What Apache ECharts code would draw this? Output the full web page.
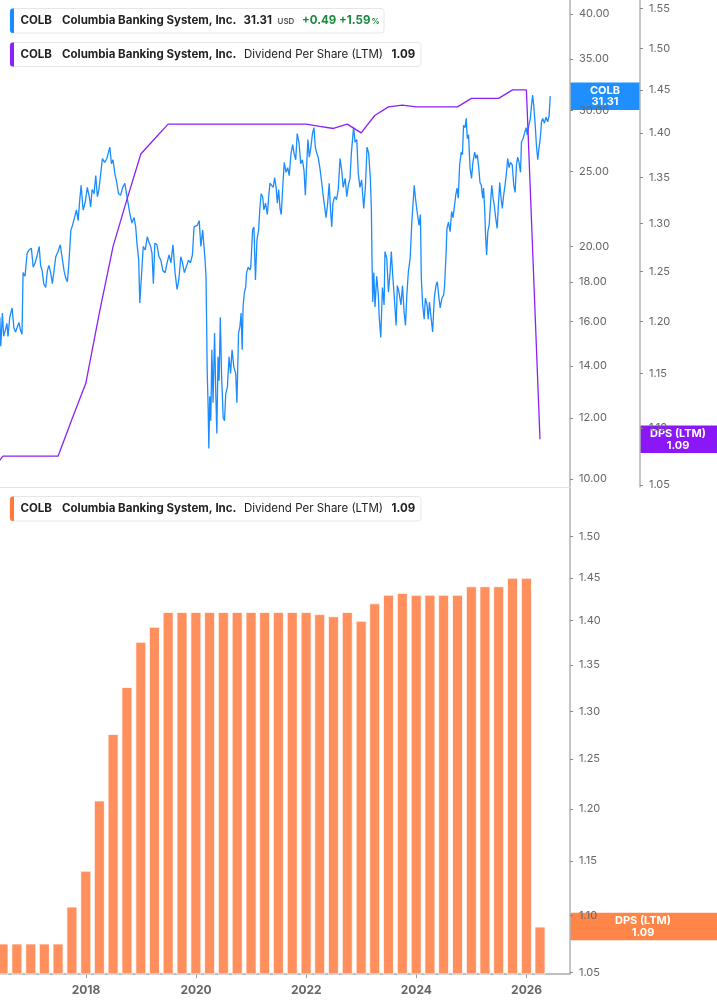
<!DOCTYPE html>
<html><head><meta charset="utf-8">
<script src="https://cdn.jsdelivr.net/npm/echarts@6/dist/echarts.min.js"></script>
<style>html,body{margin:0;padding:0;background:#fff;}#c{width:717px;height:1005px;}</style>
</head><body><div id="c"></div>
<script>
const priceDates = ['2016-06-09','2016-06-15','2016-06-26','2016-07-04','2016-07-16','2016-07-26','2016-08-02','2016-08-14','2016-08-29','2016-09-10','2016-09-21','2016-10-01','2016-10-14','2016-10-23','2016-11-03','2016-11-10','2016-11-23','2016-12-07','2016-12-20',
'2017-01-04','2017-01-16','2017-01-31','2017-02-12','2017-02-25','2017-03-06','2017-03-17','2017-03-27','2017-04-09','2017-04-20','2017-04-30','2017-05-12','2017-05-23','2017-06-03','2017-06-15','2017-06-30','2017-07-15','2017-07-26','2017-08-09','2017-08-20','2017-08-31','2017-09-10','2017-09-23','2017-10-04','2017-10-17','2017-10-30','2017-11-10','2017-11-21','2017-11-30','2017-12-13','2017-12-27',
'2018-01-10','2018-01-23','2018-02-01','2018-02-11','2018-02-24','2018-03-07','2018-03-18','2018-03-28','2018-04-09','2018-04-20','2018-05-05','2018-05-20','2018-06-08','2018-06-19','2018-06-29','2018-07-12','2018-07-25','2018-08-05','2018-08-19','2018-08-31','2018-09-16','2018-09-27','2018-10-10','2018-10-20','2018-11-02','2018-11-16','2018-11-27','2018-12-05','2018-12-17','2018-12-24',
'2019-01-04','2019-01-16','2019-01-29','2019-02-12','2019-02-23','2019-03-06','2019-03-15','2019-03-24','2019-04-03','2019-04-17','2019-04-30','2019-05-13','2019-05-26','2019-06-10','2019-06-23','2019-07-06','2019-07-19','2019-08-01','2019-08-15','2019-08-28','2019-09-09','2019-09-22','2019-10-03','2019-10-16','2019-10-29','2019-11-12','2019-11-25','2019-12-08','2019-12-19',
'2020-01-09','2020-01-22','2020-02-02','2020-02-14','2020-02-23','2020-03-01','2020-03-07','2020-03-11','2020-03-15','2020-03-21','2020-03-26','2020-04-01','2020-04-08','2020-04-15','2020-04-23','2020-05-03','2020-05-11','2020-05-18','2020-05-26','2020-06-02','2020-06-10','2020-06-18','2020-06-29','2020-07-08','2020-07-16','2020-07-27','2020-08-07','2020-08-17','2020-08-27','2020-09-08','2020-09-20','2020-09-28','2020-10-09','2020-10-18','2020-10-26','2020-11-02','2020-11-08','2020-11-16','2020-11-25','2020-12-01','2020-12-12','2020-12-23','2020-12-29',
'2021-01-10','2021-01-19','2021-01-29','2021-02-08','2021-02-19','2021-02-28','2021-03-08','2021-03-18','2021-03-26','2021-04-06','2021-04-18','2021-04-27','2021-05-05','2021-05-16','2021-05-27','2021-06-05','2021-06-15','2021-06-23','2021-07-02','2021-07-11','2021-07-19','2021-07-28','2021-08-08','2021-08-20','2021-08-31','2021-09-10','2021-09-22','2021-10-03','2021-10-12','2021-10-23','2021-11-02','2021-11-14','2021-11-25','2021-12-06','2021-12-17','2021-12-26',
'2022-01-02','2022-01-12','2022-01-21','2022-02-01','2022-02-11','2022-02-21','2022-03-02','2022-03-12','2022-03-21','2022-04-01','2022-04-14','2022-04-24','2022-05-03','2022-05-12','2022-05-23','2022-06-02','2022-06-11','2022-06-19','2022-06-27','2022-07-08','2022-07-21','2022-08-01','2022-08-13','2022-08-24','2022-09-03','2022-09-16','2022-09-27','2022-10-07','2022-10-18','2022-10-27','2022-11-05','2022-11-11','2022-11-21','2022-12-02','2022-12-12','2022-12-23',
'2023-01-03','2023-01-17','2023-01-28','2023-02-08','2023-02-19','2023-03-02','2023-03-09','2023-03-13','2023-03-18','2023-03-25','2023-04-02','2023-04-13','2023-04-25','2023-04-29','2023-05-06','2023-05-10','2023-05-14','2023-05-21','2023-06-01','2023-06-07','2023-06-19','2023-06-30','2023-07-11','2023-07-19','2023-07-28','2023-08-08','2023-08-20','2023-08-28','2023-09-08','2023-09-21','2023-10-01','2023-10-12','2023-10-21','2023-10-30','2023-11-09','2023-11-21','2023-12-02','2023-12-11','2023-12-18','2023-12-26',
'2024-01-06','2024-01-19','2024-01-28','2024-02-03','2024-02-12','2024-02-22','2024-03-01','2024-03-12','2024-03-20','2024-03-28','2024-04-06','2024-04-18','2024-04-29','2024-05-10','2024-05-19','2024-05-30','2024-06-07','2024-06-19','2024-06-30','2024-07-06','2024-07-15','2024-07-22','2024-08-01','2024-08-12','2024-08-22','2024-08-31','2024-09-08','2024-09-18','2024-09-27','2024-10-05','2024-10-14','2024-10-25','2024-11-02','2024-11-09','2024-11-19','2024-11-27','2024-12-04','2024-12-12','2024-12-22',
'2025-01-01','2025-01-10','2025-01-22','2025-01-30','2025-02-08','2025-02-18','2025-02-26','2025-03-07','2025-03-16','2025-03-22','2025-03-29','2025-04-04','2025-04-11','2025-04-19','2025-04-28','2025-05-06','2025-05-15','2025-05-24','2025-06-01','2025-06-10','2025-06-20','2025-06-28','2025-07-07','2025-07-16','2025-07-24','2025-08-02','2025-08-11','2025-08-21','2025-08-29','2025-09-07','2025-09-16','2025-09-28','2025-10-08','2025-10-17','2025-10-26','2025-11-03','2025-11-12','2025-11-22','2025-11-28','2025-12-09','2025-12-20','2025-12-29',
'2026-01-06','2026-01-16','2026-01-26','2026-02-03','2026-02-10','2026-02-17','2026-02-26','2026-03-07','2026-03-16','2026-03-24','2026-04-02','2026-04-10','2026-04-18','2026-04-29','2026-05-10','2026-05-21','2026-05-30','2026-06-07'];
const priceValues = [16.2,14.85,16.4,15.3,15.6,15.9,15.3,16.2,16.65,15.7,15.5,15.7,15.95,15.6,15.4,18.5,18.3,19.6,19.8,
19.9,18.8,19.1,19.5,20.0,18.9,18.6,17.9,17.7,18.6,18.9,18.5,17.9,18.6,19.4,19.7,20.1,19.4,18.6,18.2,18.0,19.05,21.0,21.3,21.8,22.3,21.6,23.0,24.0,22.3,22.8,
23.85,23.2,22.5,23.7,23.4,24.7,23.2,23.7,24.85,26.0,25.7,26.0,26.9,25.6,25.9,24.85,24.15,23.4,23.3,23.8,24.15,23.4,23.4,22.0,21.45,21.8,21.2,20.2,19.2,16.9,
18.3,20.0,19.8,20.6,20.25,20.0,19.6,17.9,20.2,20.1,19.4,19.2,18.6,18.5,19.05,19.5,19.05,20.1,18.5,17.6,18.1,19.4,19.05,18.5,18.6,19.2,19.05,19.5,21.2,
21.3,21.6,20.0,21.0,21.1,19.2,18.3,16.06,13.8,12.45,10.95,12.8,11.9,14.7,12.55,15.45,12.9,11.45,14.4,13.4,16.2,13.7,12.0,11.9,12.9,13.15,14.4,13.7,14.7,13.95,13.7,12.55,15.45,15.75,16.4,14.7,16.7,17.4,17.7,18.5,18.8,18.65,18.8,
21.0,21.2,18.1,20.4,21.0,22.5,23.4,23.2,22.3,22.75,22.0,23.2,24.15,24.2,23.85,24.55,23.85,22.75,23.7,22.4,22.0,23.7,25.7,24.95,25.3,24.7,26.4,27.1,26.4,25.9,28.0,27.25,25.6,25.9,25.1,23.3,
25.1,27.5,26.1,26.9,28.0,28.5,26.9,26.4,26.1,25.3,24.15,23.2,22.5,21.8,22.75,24.15,22.3,21.2,22.75,23.2,23.0,23.7,26.0,25.1,23.85,24.5,23.2,24.0,24.5,26.4,27.7,28.5,27.3,27.5,24.85,23.85,
24.4,22.4,23.85,26.9,26.4,24.5,22.3,19.2,16.95,18.5,16.7,18.3,17.2,16.3,15.6,15.25,16.06,17.7,16.8,19.7,19.3,17.45,18.55,19.7,18.4,17.15,15.8,17.8,17.45,16.8,17.8,16.45,15.8,17.3,18.55,19.3,21.5,22.85,24.0,23.1,
22.2,21.3,22.0,18.2,16.8,16.1,17.15,16.8,16.1,16.95,16.3,15.5,17.15,17.8,18.0,17.15,16.65,17.15,17.3,17.8,19.3,21.1,21.5,20.9,22.2,21.8,22.4,23.3,23.8,23.1,25.5,26.5,26.3,28.7,28.5,29.3,27.6,27.9,25.3,
24.5,25.7,26.5,26.0,26.3,25.3,24.2,24.0,23.1,23.8,22.4,20.7,19.5,20.9,21.3,22.6,24.0,23.1,22.6,21.8,21.1,22.6,24.2,23.1,22.4,23.3,24.0,24.95,26.0,25.3,25.7,25.5,24.0,23.5,25.5,26.1,25.7,24.95,27.3,27.6,28.1,28.5,
27.9,28.7,29.3,30.5,31.4,30.5,29.0,27.1,25.9,26.8,27.6,29.0,29.3,28.9,29.4,29.0,29.5,31.31];

const dpsDates = ['2016-03-31','2016-06-30','2016-09-30','2016-12-31','2017-03-31','2017-06-30','2017-09-30','2017-12-31','2018-03-31','2018-06-30','2018-09-30','2018-12-31','2019-03-31','2019-06-30','2019-09-30','2019-12-31','2020-03-31','2020-06-30','2020-09-30','2020-12-31','2021-03-31','2021-06-30','2021-09-30','2021-12-31','2022-03-31','2022-06-30','2022-09-30','2022-12-31','2023-03-31','2023-06-30','2023-09-30','2023-12-31','2024-03-31','2024-06-30','2024-09-30','2024-12-31','2025-03-31','2025-06-30','2025-09-30','2025-12-31','2026-03-31'];
const dpsValues = [1.06,1.075,1.075,1.075,1.075,1.075,1.108,1.141,1.2085,1.276,1.326,1.376,1.393,1.41,1.41,1.41,1.41,1.41,1.41,1.41,1.41,1.41,1.41,1.41,1.4075,1.405,1.41,1.40,1.42,1.43,1.432,1.43,1.43,1.43,1.43,1.44,1.44,1.44,1.45,1.45,1.09];

const priceTicks = [10,12,14,16,18,20,25,30,35,40];
const dpsTicksTop = [1.05,1.10,1.15,1.20,1.25,1.30,1.35,1.40,1.45,1.50,1.55];
const dpsTicksBottom = [1.05,1.10,1.15,1.20,1.25,1.30,1.35,1.40,1.45,1.50];
const yearTicks = ['2018-01-01','2020-01-01','2022-01-01','2024-01-01','2026-01-01'];
const lastPrice = 31.31, lastDps = 1.09;
const xMin = '2016-06-10', xMax = '2026-10-16';

const BLUE = '#1a8cff', PURPLE = '#8a22f5', ORANGE = '#ff8f5c', GREEN = '#1a8a3c';
const FONT = 'Inter, Roboto, "Noto Sans", sans-serif';
const pd = s => echarts.number.parseDate(s).getTime();

const chart = echarts.init(document.getElementById('c'), null, {renderer: 'canvas'});

const yLabel = (ticks, margin) => ({
  customValues: ticks, formatter: v => Number(v).toFixed(2), color: '#666', fontSize: 11, margin: margin, fontFamily: FONT
});
const yTick = ticks => ({show: true, customValues: ticks, length: 3, lineStyle: {color: '#888', width: 1}});
const yLine = {show: true, lineStyle: {color: '#b3b3b3', width: 1.5}};

const option = {
  animation: false,
  backgroundColor: '#fff',
  grid: [
    {left: 0, top: 0, width: 570, height: 487, containLabel: false},
    {left: 0, top: 488, width: 570, height: 486, containLabel: false}
  ],
  xAxis: [
    {type: 'value', gridIndex: 0, min: pd(xMin), max: pd(xMax), scale: true,
     axisLine: {show: true, onZero: false, lineStyle: {color: '#e3e3e3', width: 1}},
     axisTick: {show: false}, axisLabel: {show: false}, splitLine: {show: false}},
    {type: 'value', gridIndex: 1, min: pd(xMin), max: pd(xMax), scale: true,
     axisLine: {show: true, onZero: false, lineStyle: {color: '#aaa', width: 1.5}},
     axisTick: {show: true, customValues: yearTicks.map(pd), length: 4, lineStyle: {color: '#999'}},
     axisLabel: {customValues: yearTicks.map(pd), formatter: v => String(new Date(v).getFullYear()),
       color: '#666', fontWeight: 'bold', fontSize: 12, margin: 10, fontFamily: FONT},
     splitLine: {show: false}}
  ],
  yAxis: [
    {type: 'log', gridIndex: 0, position: 'right', min: 9.764, max: 41.7,
     axisLine: yLine, axisTick: yTick(priceTicks), axisLabel: yLabel(priceTicks, 9), splitLine: {show: false}},
    {type: 'log', gridIndex: 0, position: 'right', offset: 70, min: 1.0483, max: 1.5605,
     axisLine: yLine, axisTick: yTick(dpsTicksTop), axisLabel: yLabel(dpsTicksTop, 9), splitLine: {show: false}},
    {type: 'log', gridIndex: 1, position: 'right', min: 1.0485, max: 1.5605,
     axisLine: yLine, axisTick: yTick(dpsTicksBottom), axisLabel: yLabel(dpsTicksBottom, 9), splitLine: {show: false}}
  ],
  series: [
    {type: 'line', name: 'Price', xAxisIndex: 0, yAxisIndex: 0, showSymbol: false, clip: true,
     data: priceDates.map((d, i) => [pd(d), priceValues[i]]),
     lineStyle: {color: BLUE, width: 1.3}, itemStyle: {color: BLUE}, z: 2},
    {type: 'line', name: 'DPS line', xAxisIndex: 0, yAxisIndex: 1, showSymbol: false, clip: true,
     data: dpsDates.map((d, i) => [pd(d), dpsValues[i]]),
     lineStyle: {color: PURPLE, width: 1.3}, itemStyle: {color: PURPLE}, z: 3},
    {type: 'bar', name: 'DPS bars', xAxisIndex: 1, yAxisIndex: 2, clip: true, barWidth: 11,
     data: dpsDates.map((d, i) => [pd(d), dpsValues[i]]),
     itemStyle: {color: ORANGE, borderColor: 'rgba(255,255,255,0.75)', borderWidth: 1}}
  ]
};
chart.setOption(option);

const LFS = 11.5;
function legendBox(id, y, h, w, color, items) {
  const cy = y + h / 2;
  const children = [
    {type: 'rect', shape: {x: 10, y: y, width: w, height: h, r: 3}, style: {fill: '#fff', stroke: '#e6e6e6', lineWidth: 1}},
    {type: 'rect', shape: {x: 10, y: y, width: 4, height: h, r: [3, 0, 0, 3]}, style: {fill: color}}
  ];
  items.forEach(it => children.push({type: 'text', x: it.x, y: cy + (it.dy || 0), style: {
    text: it.t, fill: it.c || '#222', font: (it.w || 'bold') + ' ' + (it.s || LFS) + 'px ' + FONT,
    textAlign: 'left', textVerticalAlign: 'middle'}}));
  return {type: 'group', id: id, z: 100, children: children};
}
function valueBox(id, x, w, cy, color, l1, l2, tx) {
  const h = 27.5;
  return {type: 'group', id: id, z: 110, children: [
    {type: 'rect', shape: {x: x, y: cy - h / 2, width: w, height: h}, style: {fill: color}},
    {type: 'text', x: tx, y: cy - 5.5, style: {text: l1, fill: '#fff', font: 'bold 11px ' + FONT, textAlign: 'center', textVerticalAlign: 'middle'}},
    {type: 'text', x: tx, y: cy + 6, style: {text: l2, fill: '#fff', font: 'bold 11px ' + FONT, textAlign: 'center', textVerticalAlign: 'middle'}}
  ]};
}
const common = [
  {x: 20.5, t: 'COLB'},
  {x: 62, t: 'Columbia Banking System, Inc.'}
];
const yP = chart.convertToPixel({yAxisIndex: 0}, lastPrice);
const yD1 = chart.convertToPixel({yAxisIndex: 1}, lastDps);
const yD2 = chart.convertToPixel({yAxisIndex: 2}, lastDps);
chart.setOption({graphic: [
  legendBox('lg1', 8.5, 24.5, 374, BLUE, common.concat([
    {x: 243.5, t: lastPrice.toFixed(2)},
    {x: 277.5, t: 'USD', s: 8, c: '#555', w: '600', dy: 1},
    {x: 302, t: '+0.49', c: GREEN},
    {x: 339, t: '+1.59', c: GREEN},
    {x: 371.5, t: '%', s: 8, c: GREEN, dy: 1}
  ])),
  legendBox('lg2', 42.5, 24, 411, PURPLE, common.concat([
    {x: 244, t: 'Dividend Per Share (LTM)', w: 'normal'},
    {x: 391.5, t: lastDps.toFixed(2)}
  ])),
  legendBox('lg3', 496.5, 24.5, 411, '#ff7a36', common.concat([
    {x: 244, t: 'Dividend Per Share (LTM)', w: 'normal'},
    {x: 391.5, t: lastDps.toFixed(2)}
  ])),
  valueBox('vb1', 570, 70, yP, '#1f8fff', 'COLB', lastPrice.toFixed(2), 605),
  valueBox('vb2', 640, 77, yD1, '#8b17f8', 'DPS (LTM)', lastDps.toFixed(2), 678),
  valueBox('vb3', 570, 147, yD2, '#ff8648', 'DPS (LTM)', lastDps.toFixed(2), 643)
]});
</script>
</body></html>
